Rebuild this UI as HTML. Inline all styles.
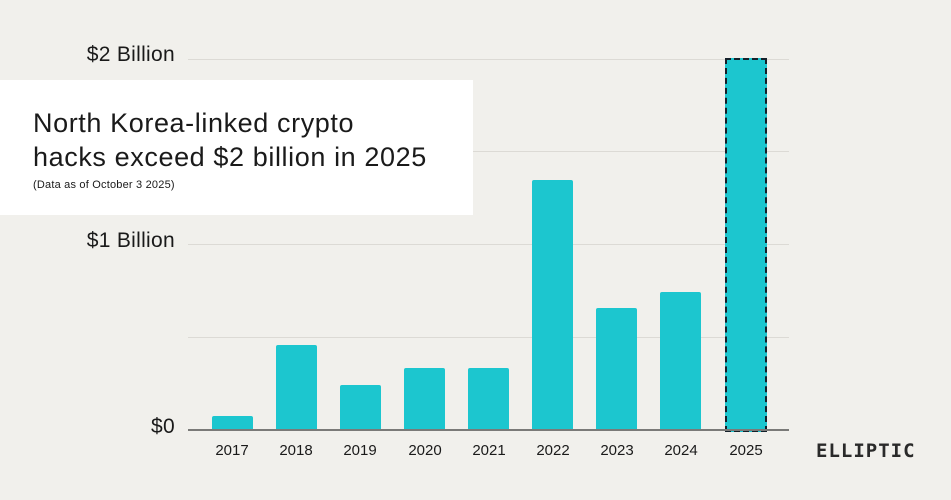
<!DOCTYPE html>
<html><head><meta charset="utf-8"><style>
html,body{margin:0;padding:0}
body{width:951px;height:500px;background:#f1f0ec;position:relative;overflow:hidden;font-family:"Liberation Sans",sans-serif;color:#1a1a1a}
.g{position:absolute;left:188px;width:601px;height:1px;background:#dcdad5}
.bar{position:absolute;background:#1cc6cf;border-radius:2px 2px 0 0;width:41px}
.x{position:absolute;top:442px;width:60px;text-align:center;font-size:15px}
.y{position:absolute;font-size:21px;letter-spacing:0.3px;text-align:right;width:175px;left:0}
</style></head><body>
<div class="g" style="top:59px"></div>
<div class="g" style="top:151px"></div>
<div class="g" style="top:244px"></div>
<div class="g" style="top:337px"></div>
<div class="y" style="top:43px">$2 Billion</div>
<div class="y" style="top:229px">$1 Billion</div>
<div class="y" style="top:415px">$0</div>
<div class="bar" style="left:212px;top:416px;height:14px"></div>
<div class="bar" style="left:276px;top:345px;height:85px"></div>
<div class="bar" style="left:340px;top:385px;height:45px"></div>
<div class="bar" style="left:404px;top:368px;height:62px"></div>
<div class="bar" style="left:468px;top:368px;height:62px"></div>
<div class="bar" style="left:532px;top:180px;height:250px"></div>
<div class="bar" style="left:596px;top:308px;height:122px"></div>
<div class="bar" style="left:660px;top:292px;height:138px"></div>
<div class="bar" style="left:725px;top:58px;height:370px;width:38px;border:2px dashed #14202a;border-radius:0"></div>
<div style="position:absolute;left:188px;top:429px;width:601px;height:2px;background:#7a7a78"></div>
<div class="x" style="left:202px">2017</div>
<div class="x" style="left:266px">2018</div>
<div class="x" style="left:330px">2019</div>
<div class="x" style="left:395px">2020</div>
<div class="x" style="left:459px">2021</div>
<div class="x" style="left:523px">2022</div>
<div class="x" style="left:587px">2023</div>
<div class="x" style="left:651px">2024</div>
<div class="x" style="left:716px">2025</div>
<div style="position:absolute;left:816px;top:440px;font-size:19px;font-weight:bold;letter-spacing:1px;color:#2a2a2a;font-family:'DejaVu Sans Mono','Liberation Mono',monospace">ELLIPTIC</div>
<div style="position:absolute;left:0;top:80px;width:473px;height:135px;background:#fff">
<div style="position:absolute;left:33px;top:26px;font-size:27px;letter-spacing:0.6px;line-height:34px;white-space:nowrap">North Korea-linked crypto<br>hacks exceed $2 billion in 2025</div>
<div style="position:absolute;left:33px;top:99px;font-size:11px;letter-spacing:0.2px">(Data as of October 3 2025)</div>
</div>
</body></html>
